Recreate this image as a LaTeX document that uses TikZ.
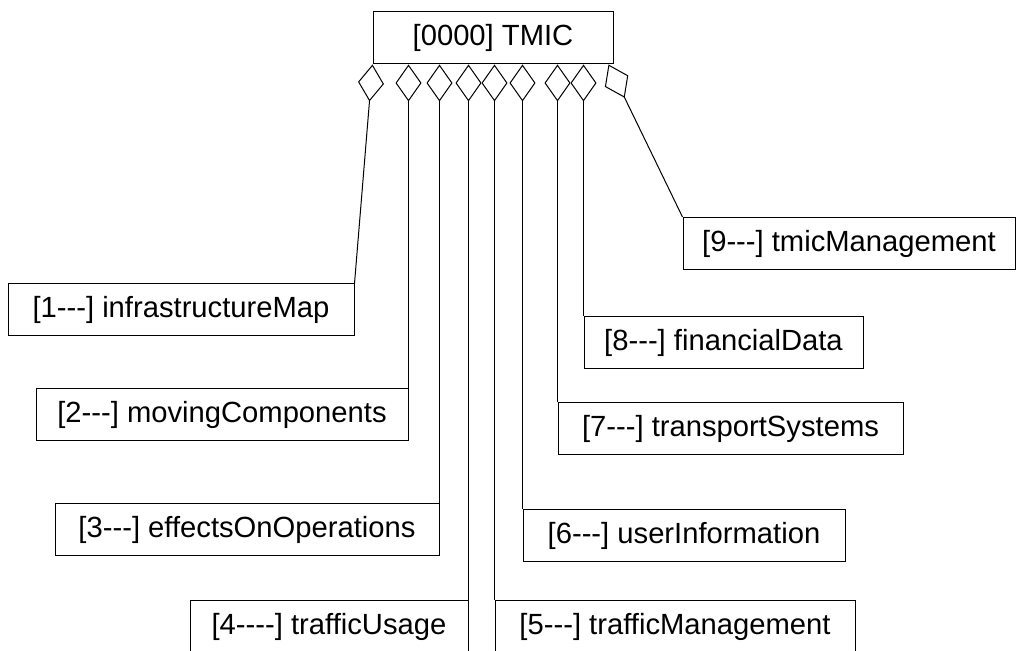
\documentclass[tikz,border=0pt]{standalone}
\usepackage{fontspec}
\newfontfamily\labelfont{Liberation Sans}
\usetikzlibrary{arrows.meta}

\begin{document}
\begin{tikzpicture}[x=0.5pt,y=-0.5pt]
  % Parameters
  \def\boxheight{52}
  \def\unitpt{0.5pt}

  % Styles for class boxes and aggregation links
  \tikzset{
    classbox/.style={draw, line width=0.5pt, inner sep=0pt,
      minimum height=\boxheight*\unitpt, font=\labelfont\fontsize{14.6}{17}\selectfont},
    partof/.style={line width=0.5pt, -{Diamond[open,length=18.5pt,width=13pt]}}
  }

  % Page frame
  \clip (0,0) rectangle (1019,651);

  % Root class
  \node[classbox, minimum width=240*\unitpt] (tmic) at (493,38) {[0000] TMIC};

  % Part classes: name/x/y/width/label
  \foreach \n/\x/\y/\w/\t in {
      infraMap/181/310/346/{[1---] infrastructureMap},
      movingComp/222/414.5/372/{[2---] movingComponents},
      effectsOps/247/529.5/384/{[3---] effectsOnOperations},
      trafficUse/329/627/278/{[4----] trafficUsage},
      trafficMgmt/675/627/360/{[5---] trafficManagement},
      userInfo/684/536/322/{[6---] userInformation},
      transportSys/730.5/429/345/{[7---] transportSystems},
      financial/723.5/343/279/{[8---] financialData},
      tmicMgmt/849/243.5/332/{[9---] tmicManagement}} {
    \node[classbox, minimum width=\w*\unitpt] (\n) at (\x,\y) {\t};
  }

  % Aggregation links
  \draw[partof] (infraMap.north east) -- (tmic.south west);
  \foreach \n/\a in {movingComp/north east, effectsOps/north east,
      trafficUse/north east, trafficMgmt/north west, userInfo/north west,
      transportSys/north west, financial/north west} {
    \draw[partof] (\n.\a) -- (\n.\a |- tmic.south);
  }
  \draw[partof] (tmicMgmt.north west) -- ([xshift=-2.5pt]tmic.south east);

\end{tikzpicture}
\end{document}
